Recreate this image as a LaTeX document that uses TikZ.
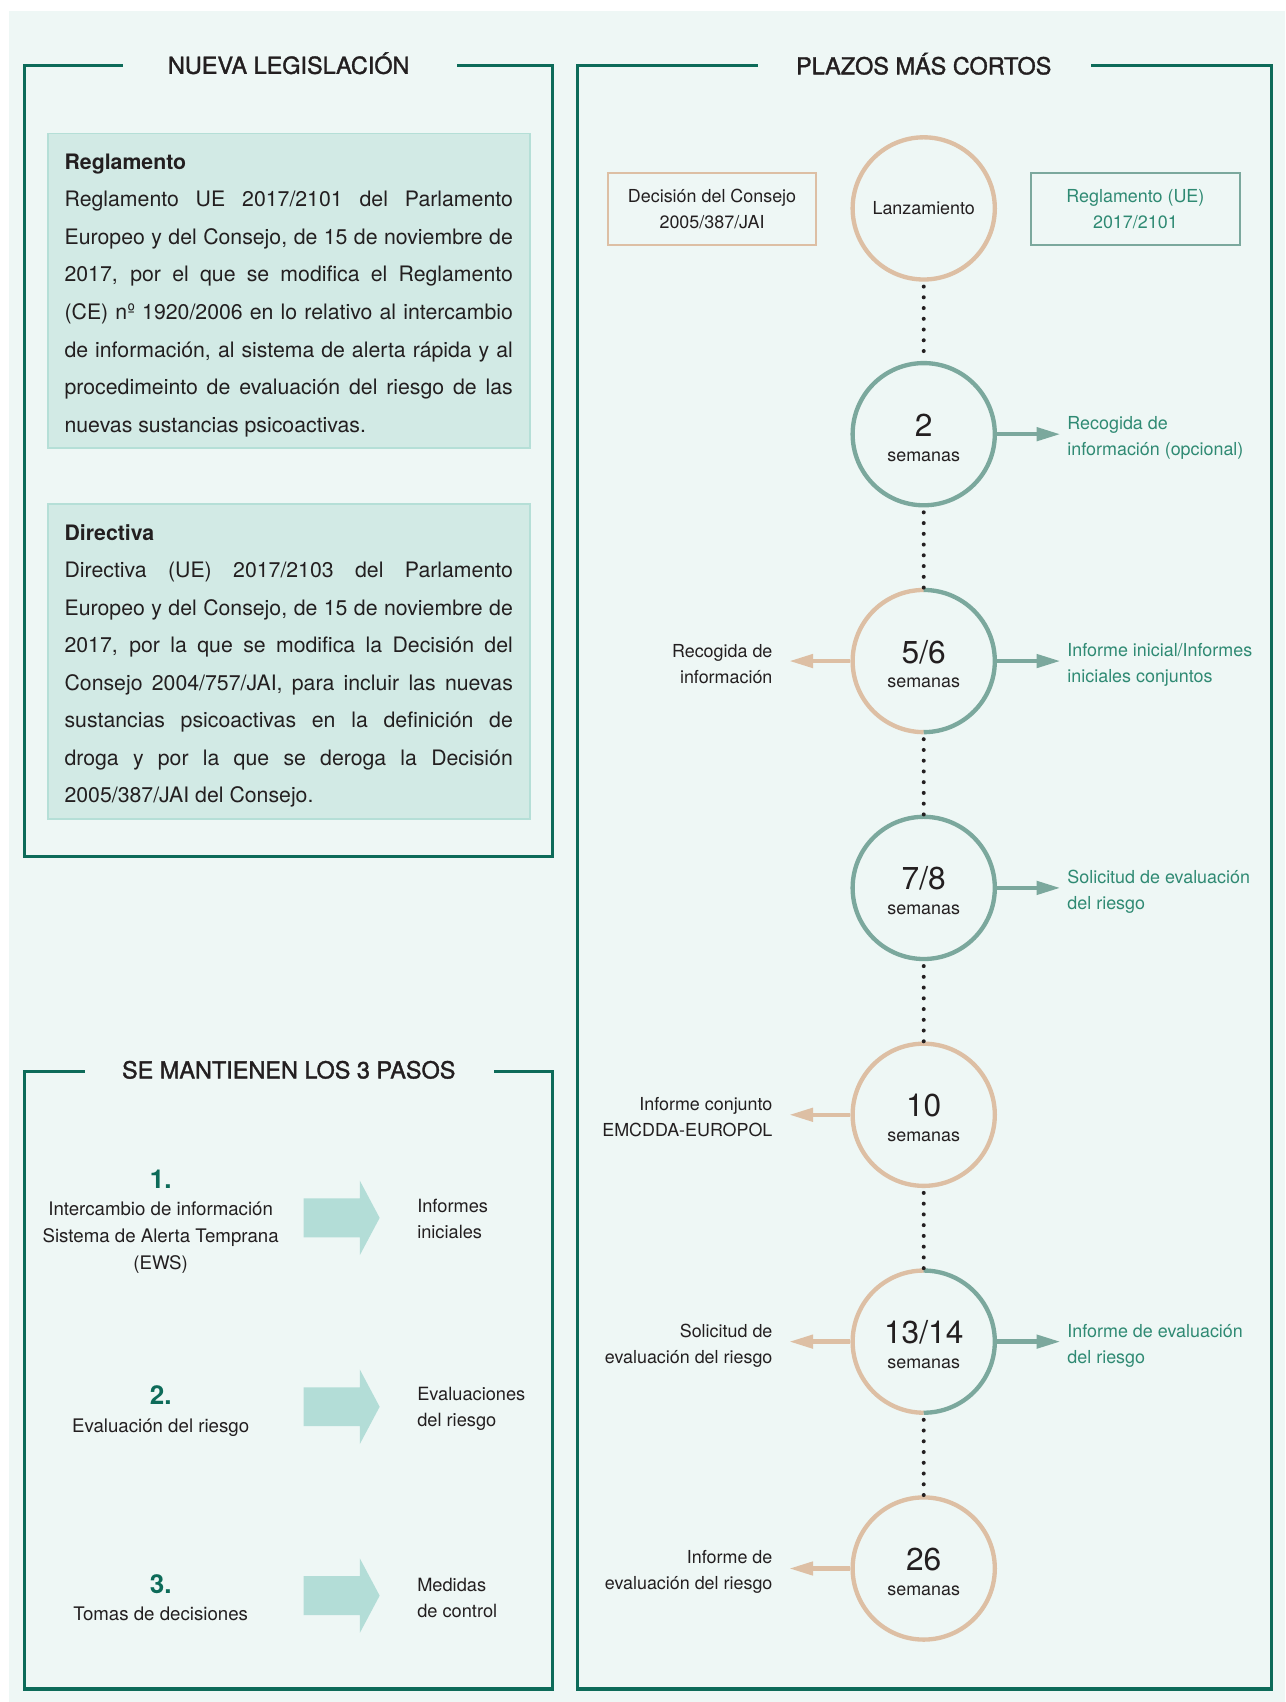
\documentclass[tikz,border=0pt]{standalone}
\usepackage{fontspec}
\setmainfont{TeX Gyre Heros}
\newfontfamily\medfont{TeX Gyre Heros}[FakeBold=1.5]
\usetikzlibrary{arrows.meta,shapes.arrows}
\setlength{\parindent}{0pt}
\hyphenpenalty=10000
\tolerance=10000
\definecolor{bgc}{HTML}{EEF7F5}
\definecolor{framec}{HTML}{0D6B59}
\definecolor{boxfill}{HTML}{D2EAE5}
\definecolor{boxline}{HTML}{B5DFD7}
\definecolor{tanc}{HTML}{DDBFA4}
\definecolor{greenc}{HTML}{7BA89D}
\definecolor{greentext}{HTML}{2F8A73}
\definecolor{arrowc}{HTML}{B3DDD7}
\definecolor{ink}{HTML}{231F20}

\newcommand{\wk}[1]{\raisebox{0pt}[13.4pt][0pt]{\fontsize{14.6}{14.6}\selectfont #1}\\semanas}

\tikzset{
  boxframe/.style={framec, line width=1.4pt},
  paneltitle/.style={anchor=base, inner sep=0pt, text=ink, font=\medfont\fontsize{10.8}{13}\selectfont},
  infobox/.style={draw=boxline, fill=boxfill, line width=0.9pt, minimum width=222pt, minimum height=145pt, text width=206.5pt, inner xsep=7.75pt, align=justify, text=ink, font=\fontsize{9.8}{17.3}\selectfont},
  ring/.style={circle, minimum size=65.5pt, inner sep=0pt, line width=2pt, align=center, text=ink, font=\fontsize{8.25}{11.45}\selectfont},
  tanring/.style={ring, draw=tanc},
  greenring/.style={ring, draw=greenc},
  halfring/.style={ring},
  leftlabel/.style={anchor=east, inner sep=0pt, align=right, text=ink, font=\fontsize{8.25}{12}\selectfont},
  rightlabel/.style={anchor=west, inner sep=0pt, align=left, text=greentext, font=\fontsize{8.25}{12}\selectfont},
  refbox/.style={line width=0.9pt, minimum width=96pt, minimum height=33.5pt, align=center, font=\fontsize{8.25}{12}\selectfont},
  tanbox/.style={refbox, draw=tanc, text=ink},
  greenbox/.style={refbox, draw=greenc, text=greentext},
  tanarrow/.style={tanc, line width=2pt, -{Triangle[length=11pt,width=6pt]}, shorten >=7.5pt},
  greenarrow/.style={greenc, line width=2pt, -{Triangle[length=11pt,width=6pt]}, shorten >=3pt},
  dotline/.style={ink, line width=1.85pt, line cap=round, dash pattern=on 0pt off 4.95pt},
  stepnum/.style={text=framec, font=\bfseries\fontsize{12}{14}\selectfont},
  steptext/.style={align=center, text=ink, font=\fontsize{8.6}{12.5}\selectfont},
  steparrow/.style={single arrow, fill=arrowc, minimum height=35pt, inner xsep=0pt, inner ysep=8.75pt, single arrow head extend=8.25pt, single arrow tip angle=124},
  steplabel/.style={anchor=west, inner sep=0pt, align=left, text=ink, font=\fontsize{8.4}{12}\selectfont},
}

\begin{document}
\begin{tikzpicture}[x=0.5pt, y=-0.5pt]
    \useasboundingbox (0,0) rectangle (1184,1568);
    \fill[bgc] (8,10) rectangle (1184,1568);

    % left panel: legislation
    \node[paneltitle] (t1) at (266,68) {NUEVA LEGISLACIÓN};
    \draw[boxframe] (113,60) -- (23,60) -- (23,789) -- (509,789) -- (509,60) -- (421,60);

    \node[infobox] (reg) at (266,268) {\textbf{Reglamento}\par
        Reglamento UE 2017/2101 del Parlamento\linebreak
        Europeo y del Consejo, de 15 de noviembre de\linebreak
        2017, por el que se modifica el Reglamento\linebreak
        (CE) nº 1920/2006 en lo relativo al intercambio\linebreak
        de información, al sistema de alerta rápida y al\linebreak
        procedimeinto de evaluación del riesgo de las\linebreak
        nuevas sustancias psicoactivas.\par\vspace{-4pt}};
    \node[infobox] (dir) at (266,609.5) {\textbf{Directiva}\par
        Directiva (UE) 2017/2103 del Parlamento\linebreak
        Europeo y del Consejo, de 15 de noviembre de\linebreak
        2017, por la que se modifica la Decisión del\linebreak
        Consejo 2004/757/JAI, para incluir las nuevas\linebreak
        sustancias psicoactivas en la definición de\linebreak
        droga y por la que se deroga la Decisión\linebreak
        2005/387/JAI del Consejo.\par\vspace{-4pt}};

    % left panel: three steps
    \node[paneltitle] (t2) at (266,993.5) {SE MANTIENEN LOS 3 PASOS};
    \draw[boxframe] (78,987) -- (23,987) -- (23,1556) -- (509,1556) -- (509,987) -- (455,987);

    \node[stepnum] (n1) at (148,1086) {1.};
    \node[steptext] (s1) at (148,1140) {Intercambio de información\\Sistema de Alerta Temprana\\(EWS)};
    \node[steparrow] (a1) at (310,1122) {};
    \node[steplabel] (o1) at (384,1123) {Informes\\iniciales};

    \node[stepnum] (n2) at (148,1285) {2.};
    \node[steptext] (s2) at (148,1315) {Evaluación del riesgo};
    \node[steparrow] (a2) at (310,1296) {};
    \node[steplabel] (o2) at (384,1298) {Evaluaciones\\del riesgo};

    \node[stepnum] (n3) at (148,1459) {3.};
    \node[steptext] (s3) at (148,1487) {Tomas de decisiones};
    \node[steparrow] (a3) at (310,1470) {};
    \node[steplabel] (o3) at (384,1472) {Medidas\\de control};

    % right panel: timeline
    \node[paneltitle] (t3) at (851,68.5) {PLAZOS MÁS CORTOS};
    \draw[boxframe] (698,60) -- (532,60) -- (532,1556) -- (1171,1556) -- (1171,60) -- (1005,60);

    \node[tanbox] (dec) at (656,192.5) {Decisión del Consejo\\2005/387/JAI};
    \node[greenbox] (ue) at (1046,192.5) {Reglamento (UE)\\2017/2101};

    \node[tanring] (c0) at (851,192) {Lanzamiento};
    \node[greenring] (c1) at (851,400) {\wk{2}};
    \node[halfring] (c2) at (851,609) {\wk{5/6}};
    \node[greenring] (c3) at (851,818) {\wk{7/8}};
    \node[tanring] (c4) at (851,1027) {\wk{10}};
    \node[halfring] (c5) at (851,1236) {\wk{13/14}};
    \node[tanring] (c6) at (851,1445) {\wk{26}};

    \foreach \c in {c2,c5} {
        \draw[tanc, line width=2pt] ([yshift=32.75pt]\c.center) arc[start angle=90, end angle=270, radius=32.75pt];
        \draw[greenc, line width=2pt] ([yshift=-32.75pt]\c.center) arc[start angle=-90, end angle=90, radius=32.75pt];
    }

    \foreach \a/\b in {c0/c1,c1/c2,c2/c3,c3/c4,c4/c5,c5/c6}
        \draw[dotline] ([yshift=-2.25pt]\a.south) -- (\b.north);

    \node[rightlabel] (r1) at (983,403.5) {Recogida de\\información (opcional)};
    \node[leftlabel] (l2) at (712,611.5) {Recogida de\\información};
    \node[rightlabel] (r2) at (983,612.5) {Informe inicial/Informes\\iniciales conjuntos};
    \node[rightlabel] (r3) at (983,821.5) {Solicitud de evaluación\\del riesgo};
    \node[leftlabel] (l4) at (712,1029) {Informe conjunto\\EMCDDA-EUROPOL};
    \node[leftlabel] (l5) at (712,1239.5) {Solicitud de\\evaluación del riesgo};
    \node[rightlabel] (r5) at (983,1239.5) {Informe de evaluación\\del riesgo};
    \node[leftlabel] (l6) at (712,1448) {Informe de\\evaluación del riesgo};

    \draw[greenarrow] (c1) -- (c1 -| r1.west);
    \draw[tanarrow] (c2) -- (c2 -| l2.east);
    \draw[greenarrow] (c2) -- (c2 -| r2.west);
    \draw[greenarrow] (c3) -- (c3 -| r3.west);
    \draw[tanarrow] (c4) -- (c4 -| l4.east);
    \draw[tanarrow] (c5) -- (c5 -| l5.east);
    \draw[greenarrow] (c5) -- (c5 -| r5.west);
    \draw[tanarrow] (c6) -- (c6 -| l6.east);
\end{tikzpicture}
\end{document}
